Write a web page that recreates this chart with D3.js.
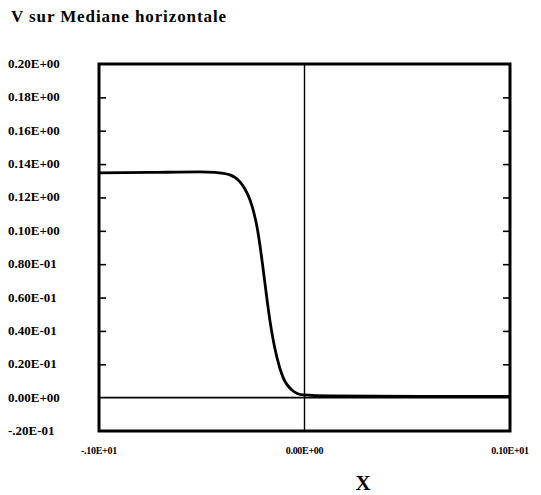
<!DOCTYPE html>
<html><head><meta charset="utf-8">
<style>
body{margin:0;background:#fff;}
svg text{font-family:"Liberation Serif",serif;font-weight:bold;fill:#000;}
</style>
<script src="https://cdn.jsdelivr.net/npm/d3@7"></script>
</head><body>
<svg id="c" width="541" height="495"></svg>
<script>
const title = "V sur Mediane horizontale";
const xLabel = "X";
const xValues = [-1, -0.752, -0.509, -0.436, -0.363, -0.314, -0.290, -0.265, -0.246, -0.231, -0.217, -0.202, -0.1825, -0.168, -0.153, -0.134, -0.105, -0.061, -0.007, 0.124, 0.562, 1];
const vValues = [0.1347, 0.1350, 0.1353, 0.1350, 0.1335, 0.1293, 0.1251, 0.1185, 0.1107, 0.1023, 0.0915, 0.0777, 0.0590, 0.0460, 0.0350, 0.0240, 0.0123, 0.0046, 0.0016, 0.0010, 0.0007, 0.0007];
const yTicks = [0.20, 0.18, 0.16, 0.14, 0.12, 0.10, 0.08, 0.06, 0.04, 0.02, 0.00, -0.02];
const yTickLabels = ["0.20E+00","0.18E+00","0.16E+00","0.14E+00","0.12E+00","0.10E+00","0.80E-01","0.60E-01","0.40E-01","0.20E-01","0.00E+00","-.20E-01"];
const xTicks = [-1, 0, 1];
const xTickLabels = ["-.10E+01","0.00E+00","0.10E+01"];

const L = 99, R = 510, T = 64, B = 431;
const svg = d3.select("#c");
const x = d3.scaleLinear().domain([-1, 1]).range([L, R]);
const y = d3.scaleLinear().domain([-0.02, 0.20]).range([B, T]);

svg.append("text").attr("x", 11).attr("y", 22)
  .attr("font-size", 17).attr("letter-spacing", 0.9).text(title);

// y tick labels
svg.append("g").selectAll("text").data(yTicks).join("text")
  .attr("x", 8).attr("y", d => y(d) + 4)
  .attr("font-size", 13)
  .text((d, i) => yTickLabels[i]);

// inner ticks, left & right, via d3 axes
const inner = yTicks.filter(d => d > -0.02 && d < 0.2 && d !== 0);
const leftAx = d3.axisRight(y).tickValues(inner).tickSize(7).tickFormat("");
const rightAx = d3.axisLeft(y).tickValues(inner).tickSize(7).tickFormat("");
const gl = svg.append("g").attr("transform", `translate(${L},0)`).call(leftAx);
const gr = svg.append("g").attr("transform", `translate(${R},0)`).call(rightAx);
[gl, gr].forEach(g => { g.select(".domain").remove(); g.selectAll("line").attr("stroke", "#000").attr("stroke-width", 1.6); });

// x tick labels
svg.append("g").selectAll("text").data(xTicks).join("text")
  .attr("x", d => x(d)).attr("y", 454).attr("text-anchor", "middle")
  .attr("font-size", 10).attr("letter-spacing", -0.3)
  .text((d, i) => xTickLabels[i]);

svg.append("text").attr("x", 363).attr("y", 490).attr("text-anchor", "middle")
  .attr("font-size", 21).text(xLabel);

// zero lines
svg.append("line").attr("x1", L).attr("x2", R).attr("y1", y(0)).attr("y2", y(0))
  .attr("stroke", "#000").attr("stroke-width", 1.8);
svg.append("line").attr("x1", x(0)).attr("x2", x(0)).attr("y1", T).attr("y2", B)
  .attr("stroke", "#000").attr("stroke-width", 1.4);

// curve
const pts = xValues.map((d, i) => [d, vValues[i]]);
svg.append("path").datum(pts)
  .attr("d", d3.line().x(d => x(d[0])).y(d => y(d[1])).curve(d3.curveMonotoneX))
  .attr("fill", "none").attr("stroke", "#000").attr("stroke-width", 2.8);

// frame
svg.append("rect").attr("x", L).attr("y", T).attr("width", R - L).attr("height", B - T)
  .attr("fill", "none").attr("stroke", "#000").attr("stroke-width", 3);

svg.selectAll("g").attr("font-family", null).attr("font-size", null);
</script></body></html>
